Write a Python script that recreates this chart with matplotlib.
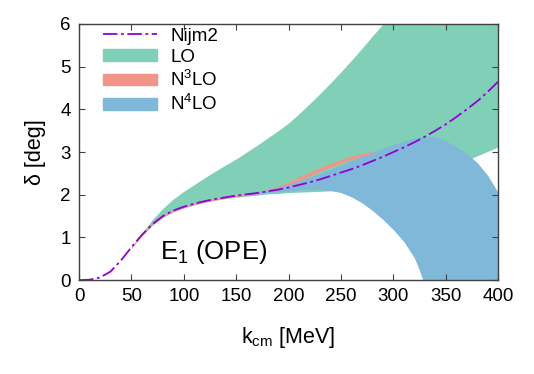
import numpy as np
import matplotlib
matplotlib.use("Agg")
import matplotlib.pyplot as plt
from matplotlib.patches import Patch
from matplotlib.lines import Line2D

plt.rcParams['font.family'] = ['Liberation Sans', 'DejaVu Sans']
plt.rcParams['mathtext.fontset'] = 'custom'
plt.rcParams['mathtext.rm'] = 'Liberation Sans'
plt.rcParams['mathtext.it'] = 'Liberation Sans'

# Nijm2 phase shift
k_nijm = [0, 10, 20, 30, 40, 50, 60, 70, 80, 90, 100, 110, 120, 130, 140, 150,
          160, 170, 180, 190, 200, 210, 220, 230, 240, 250, 260, 270, 280, 290,
          300, 310, 320, 330, 340, 350, 360, 370, 380, 390, 400]
d_nijm = [0, 0.01, 0.06, 0.2, 0.46, 0.77, 1.06, 1.31, 1.5, 1.63, 1.72, 1.79,
          1.85, 1.9, 1.94, 1.98, 2.01, 2.04, 2.08, 2.12, 2.17, 2.23, 2.29, 2.36,
          2.44, 2.52, 2.6, 2.69, 2.79, 2.89, 3.0, 3.11, 3.23, 3.36, 3.5, 3.65,
          3.82, 4.0, 4.19, 4.41, 4.65]

# LO band
k_lo = [51, 60, 70, 80, 90, 100, 110, 120, 130, 140, 150, 160, 170, 180, 190,
        200, 210, 220, 230, 240, 250, 260, 270, 280, 290, 300, 325, 350, 375, 400]
lo_low = [0.8, 1.04, 1.29, 1.47, 1.6, 1.69, 1.76, 1.82, 1.87, 1.91, 1.94, 1.97,
          1.99, 2.02, 2.03, 2.05, 2.06, 2.07, 2.08, 2.09, 2.1, 2.14, 2.18, 2.23,
          2.28, 2.33, 2.48, 2.63, 2.86, 3.12]
lo_up = [0.8, 1.1, 1.42, 1.68, 1.9, 2.08, 2.24, 2.4, 2.55, 2.7, 2.84, 3.0, 3.16,
         3.33, 3.5, 3.68, 3.9, 4.13, 4.37, 4.62, 4.88, 5.15, 5.43, 5.72, 6.0,
         6.0, 6.0, 6.0, 6.0, 6.0]

# N3LO band
k_n3 = [50, 60, 70, 80, 90, 100, 110, 120, 130, 140, 150, 160, 170, 180, 190,
        200, 210, 220, 230, 240, 250, 260, 270, 280]
n3_low = [0.75, 1.04, 1.29, 1.48, 1.61, 1.7, 1.77, 1.83, 1.88, 1.92, 1.96, 1.99,
          2.02, 2.06, 2.11, 2.2, 2.32, 2.44, 2.55, 2.65, 2.74, 2.83, 2.9, 2.95]
n3_up = [0.78, 1.08, 1.33, 1.52, 1.65, 1.74, 1.81, 1.87, 1.92, 1.96, 2.0, 2.03,
         2.07, 2.12, 2.2, 2.3, 2.42, 2.53, 2.64, 2.74, 2.83, 2.91, 2.97, 3.02]

# N4LO band
k_n4 = [160, 170, 180, 190, 200, 210, 220, 230, 240, 250, 260, 270, 280, 290,
        300, 310, 320, 325, 328, 340, 350, 360, 370, 380, 390, 400]
n4_low = [1.99, 2.02, 2.05, 2.07, 2.09, 2.11, 2.12, 2.12, 2.1, 2.05, 1.95, 1.81,
          1.63, 1.42, 1.18, 0.9, 0.52, 0.22, 0.0, 0.0, 0.0, 0.0, 0.0, 0.0, 0.0, 0.0]
n4_up = [2.02, 2.06, 2.11, 2.17, 2.24, 2.32, 2.41, 2.5, 2.6, 2.7, 2.8, 2.9, 2.99,
         3.09, 3.18, 3.26, 3.32, 3.35, 3.36, 3.36, 3.26, 3.12, 2.97, 2.75, 2.45, 2.05]

c_nijm = '#9400d3'
c_lo = '#80d0b8'
c_n3 = '#f29488'
c_n4 = '#80b8d9'

fig = plt.figure(figsize=(5.34, 3.74), dpi=100)
ax = fig.add_axes([0.148, 0.251, 0.785, 0.685])

ax.fill_between(k_lo, lo_low, lo_up, color=c_lo, lw=0)
ax.fill_between(k_n3, n3_low, n3_up, color=c_n3, lw=0)
ax.fill_between(k_n4, n4_low, n4_up, color=c_n4, lw=0)
ax.plot(k_nijm, d_nijm, color=c_nijm, lw=1.3, dashes=[8, 2, 1.5, 2])

ax.set_xlim(0, 400)
ax.set_ylim(0, 6)
ax.set_xticks(range(0, 401, 50))
ax.set_yticks(range(0, 7))
ax.tick_params(direction='in', top=True, right=True, labelsize=13.5, length=4,
               color='#404040', pad=6)
for s in ax.spines.values():
    s.set_color('#404040')
    s.set_linewidth(1.0)

ax.set_xlabel('k$_{\\rm cm}$ [MeV]', fontsize=15.5, labelpad=14)
ax.set_ylabel('δ [deg]', fontsize=15.5, labelpad=10)

ax.text(77, 0.5, 'E$_1$ (OPE)', fontsize=18.5)

handles = [Line2D([], [], color=c_nijm, lw=1.3, dashes=[8, 2, 1.5, 2]),
           Patch(color=c_lo), Patch(color=c_n3), Patch(color=c_n4)]
labels = ['Nijm2', 'LO', 'N$^3$LO', 'N$^4$LO']
ax.legend(handles, labels, loc='upper left', frameon=False, fontsize=13.5,
          handlelength=2.9, handleheight=0.6, labelspacing=0.22,
          bbox_to_anchor=(0.057, 0.985), borderaxespad=0, borderpad=0,
          handletextpad=0.7)

fig.savefig('out.png', dpi=100)
